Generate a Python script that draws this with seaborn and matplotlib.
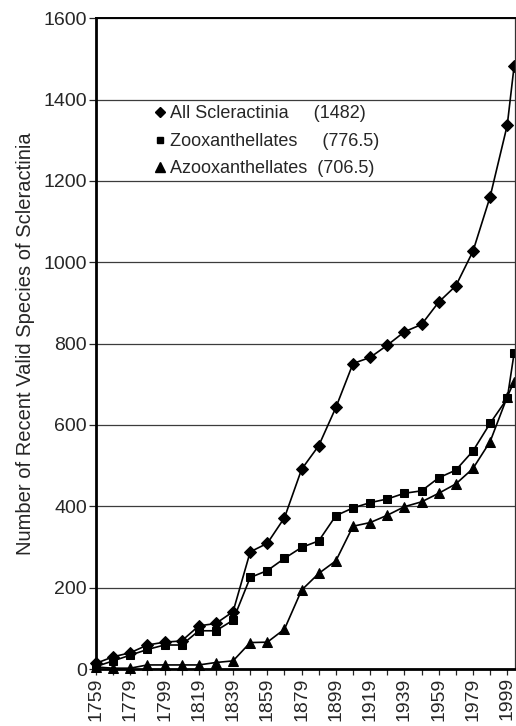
import numpy as np
import pandas as pd
import matplotlib
matplotlib.use("Agg")
import matplotlib.pyplot as plt
from matplotlib.lines import Line2D
import seaborn as sns

# Years sampled every decade, plus the final tally
years = [1759, 1769, 1779, 1789, 1799, 1809, 1819, 1829, 1839, 1849, 1859,
         1869, 1879, 1889, 1899, 1909, 1919, 1929, 1939, 1949, 1959, 1969,
         1979, 1989, 1999, 2003]

all_scler = [14, 30, 40, 59, 66, 69, 106, 112, 141, 288, 309,
             372, 491, 549, 643, 751, 766, 796, 829, 847, 902, 942,
             1027, 1161, 1337, 1482]
zoox = [6, 20, 34, 48, 59, 59, 94, 94, 120, 225, 242,
        272, 299, 315, 377, 396, 409, 418, 432, 438, 470, 489,
        536, 604, 665, 776.5]
azoox = [5, 2, 2, 10, 10, 10, 10, 16, 20, 65, 66,
         98, 194, 235, 266, 351, 360, 378, 399, 411, 432, 455,
         493, 559, 669, 706.5]

series_names = ["All Scleractinia", "Zooxanthellates", "Azooxanthellates"]
legend_labels = ["All Scleractinia     (1482)",
                 "Zooxanthellates     (776.5)",
                 "Azooxanthellates  (706.5)"]
tick_years = list(range(1759, 2000, 20))

df = pd.DataFrame({
    "year": years * 3,
    "count": all_scler + zoox + azoox,
    "group": [n for n in series_names for _ in years],
})

sns.set_style("white")
plt.rcParams["font.family"] = ["Liberation Sans", "DejaVu Sans"]

fig = plt.figure(figsize=(5.16, 7.26), dpi=100)
ax = fig.add_axes([0.186, 0.0785, 0.812, 0.8965])

markers = {"All Scleractinia": "D", "Zooxanthellates": "s", "Azooxanthellates": "^"}
sizes = {"All Scleractinia": 6.5, "Zooxanthellates": 5.8, "Azooxanthellates": 7}
leg_sizes = {"All Scleractinia": 5.5, "Zooxanthellates": 5.0, "Azooxanthellates": 6.5}

for name in series_names:
    sub = df[df["group"] == name]
    sns.lineplot(data=sub, x="year", y="count", ax=ax, color="black",
                 marker=markers[name], markersize=sizes[name],
                 markeredgecolor="black", linewidth=1.2, legend=False,
                 clip_on=False)

ax.set_xlim(1759, 2003.5)
ax.set_ylim(0, 1600)
ax.set_yticks(range(0, 1601, 200))
ax.yaxis.grid(True, color="#3c3c3c", linewidth=0.9)
ax.set_axisbelow(True)

ax.set_xticks(tick_years)
ax.set_xticks(range(1759, 2000, 10), minor=True)
ax.set_xticklabels([str(y) for y in tick_years], rotation=90)
ax.tick_params(axis="x", which="both", direction="out", length=4, width=0.9,
               bottom=True, labelsize=14, pad=2)
ax.tick_params(axis="y", direction="out", length=5, width=0.9, left=True,
               labelsize=14, pad=1.5)

for side in ["left", "bottom"]:
    ax.spines[side].set_linewidth(2.0)
    ax.spines[side].set_color("black")
ax.spines["top"].set_linewidth(1.4)
ax.spines["top"].set_color("black")
ax.spines["right"].set_linewidth(0.9)
ax.spines["right"].set_color("#333333")

ax.set_xlabel("")
ax.set_ylabel("Number of Recent Valid Species of Scleractinia", fontsize=14.5,
              labelpad=6)

handles = [Line2D([], [], linestyle="none", marker=markers[n], color="black",
                  markersize=leg_sizes[n]) for n in series_names]
ax.legend(handles, legend_labels, loc="upper left", bbox_to_anchor=(0.139, 0.866),
          frameon=False, fontsize=13, handlelength=0.6, handletextpad=0.25,
          labelspacing=0.58, borderaxespad=0, borderpad=0)

fig.savefig("out.png", dpi=100)
